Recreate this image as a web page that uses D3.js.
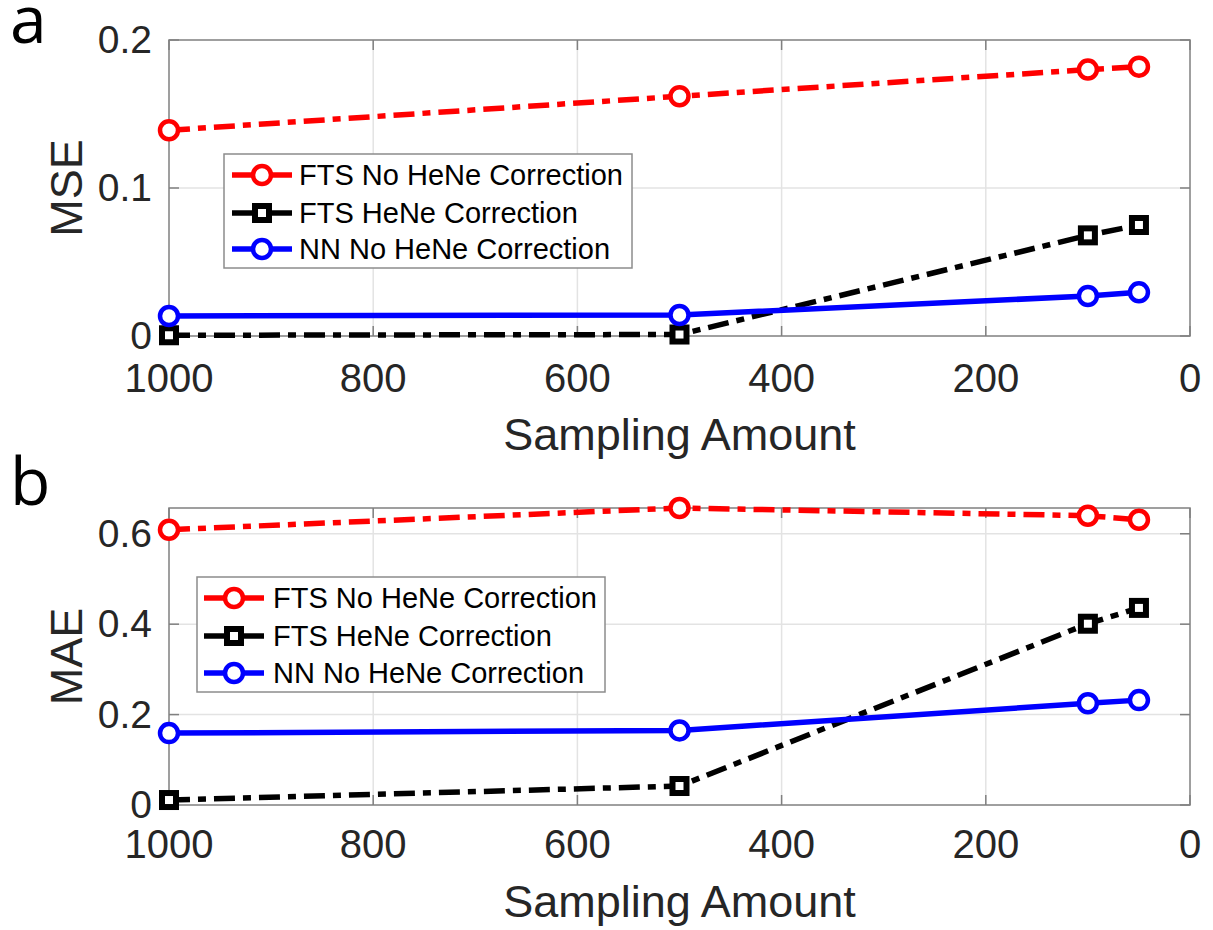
<!DOCTYPE html>
<html>
<head>
<meta charset="utf-8">
<script src="https://cdn.jsdelivr.net/npm/d3@7"></script>
<style>
  html, body { margin: 0; padding: 0; background: #fff; }
  svg { display: block; }
  text { font-family: "Liberation Sans", Arial, sans-serif; fill: #262626; }
</style>
</head>
<body>
<svg id="chart" width="1213" height="930"></svg>
<script>
// ---------------- data ----------------
const samplingAmounts = [1000, 500, 100, 50];
const xTickValues = [1000, 800, 600, 400, 200, 0];
const seriesNames = ["FTS No HeNe Correction", "FTS HeNe Correction", "NN No HeNe Correction"];

const mseFtsNoCorr = [0.139, 0.162, 0.180, 0.182];
const mseFtsCorr   = [0.0005, 0.001, 0.068, 0.075];
const mseNnNoCorr  = [0.0135, 0.0142, 0.027, 0.0295];
const mseTicks = [0, 0.1, 0.2];

const maeFtsNoCorr = [0.609, 0.657, 0.640, 0.631];
const maeFtsCorr   = [0.011, 0.042, 0.401, 0.436];
const maeNnNoCorr  = [0.159, 0.165, 0.225, 0.232];
const maeTicks = [0, 0.2, 0.4, 0.6];

// ---------------- styling ----------------
const styles = [
  { color: "#ff0000", dash: "21,8,8,8", marker: "circle" },
  { color: "#000000", dash: "21,8,8,8", marker: "square" },
  { color: "#0000ff", dash: null, marker: "circle" }
];
const axisColor = "#808080";
const gridColor = "#e3e3e3";

const svg = d3.select("#chart");
const X0 = 169, X1 = 1190;

const panels = [
  { letter: "a", ylabel: "MSE", top: 40, bottom: 336, ymax: 0.2, ticks: mseTicks,
    fmt: d => d === 0 ? "0" : d3.format(".1f")(d),
    series: [mseFtsNoCorr, mseFtsCorr, mseNnNoCorr],
    letterY: 43, xTickBase: 392, xTitleBase: 450,
    legend: { x: 224, y: 154, w: 408, h: 114, rows: [175, 213, 249], lineX0: 232, lineX1: 292, textX: 299 } },
  { letter: "b", ylabel: "MAE", top: 508, bottom: 805, ymax: d3.max(maeFtsNoCorr), ticks: maeTicks,
    fmt: d => d === 0 ? "0" : d3.format(".1f")(d),
    series: [maeFtsNoCorr, maeFtsCorr, maeNnNoCorr],
    letterY: 505, xTickBase: 858, xTitleBase: 917,
    legend: { x: 197, y: 577, w: 408, h: 115, rows: [598, 636, 673], lineX0: 204, lineX1: 264, textX: 273 } }
];

function drawMarker(g, type, cx, cy, color) {
  if (type === "circle") {
    g.append("circle").attr("cx", cx).attr("cy", cy).attr("r", 9)
      .attr("fill", "#fff").attr("stroke", color).attr("stroke-width", 4.5);
  } else {
    g.append("rect").attr("x", cx - 7).attr("y", cy - 7).attr("width", 14).attr("height", 14)
      .attr("fill", "#fff").attr("stroke", color).attr("stroke-width", 6);
  }
}

panels.forEach(p => {
  const x = d3.scaleLinear().domain([1000, 0]).range([X0, X1]);
  const y = d3.scaleLinear().domain([0, p.ymax]).range([p.bottom, p.top]);
  const g = svg.append("g");

  // grid
  g.selectAll(".vg").data(xTickValues.filter(v => v !== 1000 && v !== 0)).enter().append("line")
    .attr("x1", d => x(d)).attr("x2", d => x(d)).attr("y1", p.top).attr("y2", p.bottom)
    .attr("stroke", gridColor).attr("stroke-width", 1.5);
  g.selectAll(".hg").data(p.ticks.filter(v => y(v) > p.top + 1 && y(v) < p.bottom - 1)).enter().append("line")
    .attr("x1", X0).attr("x2", X1).attr("y1", d => y(d)).attr("y2", d => y(d))
    .attr("stroke", gridColor).attr("stroke-width", 1.5);

  // box
  g.append("rect").attr("x", X0).attr("y", p.top).attr("width", X1 - X0).attr("height", p.bottom - p.top)
    .attr("fill", "none").attr("stroke", axisColor).attr("stroke-width", 1.5);

  // inward ticks on all sides
  const tl = 10;
  xTickValues.forEach(v => {
    g.append("line").attr("x1", x(v)).attr("x2", x(v)).attr("y1", p.bottom).attr("y2", p.bottom - tl)
      .attr("stroke", axisColor).attr("stroke-width", 1.5);
    g.append("line").attr("x1", x(v)).attr("x2", x(v)).attr("y1", p.top).attr("y2", p.top + tl)
      .attr("stroke", axisColor).attr("stroke-width", 1.5);
  });
  p.ticks.forEach(v => {
    g.append("line").attr("x1", X0).attr("x2", X0 + tl).attr("y1", y(v)).attr("y2", y(v))
      .attr("stroke", axisColor).attr("stroke-width", 1.5);
    g.append("line").attr("x1", X1).attr("x2", X1 - tl).attr("y1", y(v)).attr("y2", y(v))
      .attr("stroke", axisColor).attr("stroke-width", 1.5);
  });

  // tick labels
  g.selectAll(".xt").data(xTickValues).enter().append("text")
    .attr("x", d => x(d)).attr("y", p.xTickBase).attr("text-anchor", "middle")
    .attr("font-size", 40).text(d => d);
  g.selectAll(".yt").data(p.ticks).enter().append("text")
    .attr("x", X0 - 17).attr("y", d => y(d) + 13).attr("text-anchor", "end")
    .attr("font-size", 39).text(p.fmt);

  // axis titles
  g.append("text").attr("x", (X0 + X1) / 2).attr("y", p.xTitleBase).attr("text-anchor", "middle")
    .attr("font-size", 45).text("Sampling Amount");
  g.append("text").attr("transform", `translate(82,${(p.top + p.bottom) / 2}) rotate(-90)`)
    .attr("text-anchor", "middle").attr("font-size", 45).text(p.ylabel);

  // panel letter
  svg.append("text").attr("x", 10).attr("y", p.letterY).attr("font-size", 66)
    .style("font-family", "'Open Sans', 'Liberation Sans', sans-serif")
    .style("fill", "#000").text(p.letter);

  // series
  const line = d3.line().x((d, i) => x(samplingAmounts[i])).y(d => y(d));
  p.series.forEach((vals, si) => {
    const st = styles[si];
    g.append("path").datum(vals).attr("d", line).attr("fill", "none")
      .attr("stroke", st.color).attr("stroke-width", 5.5)
      .attr("stroke-dasharray", st.dash).attr("stroke-linejoin", "round");
  });
  p.series.forEach((vals, si) => {
    const st = styles[si];
    vals.forEach((v, i) => drawMarker(g, st.marker, x(samplingAmounts[i]), y(v), st.color));
  });

  // legend
  const L = p.legend;
  const lg = svg.append("g");
  lg.append("rect").attr("x", L.x).attr("y", L.y).attr("width", L.w).attr("height", L.h)
    .attr("fill", "#fff").attr("stroke", "#8c8c8c").attr("stroke-width", 1.5);
  seriesNames.forEach((name, si) => {
    const st = styles[si];
    const cy = L.rows[si];
    lg.append("line").attr("x1", L.lineX0).attr("x2", L.lineX1).attr("y1", cy).attr("y2", cy)
      .attr("stroke", st.color).attr("stroke-width", 5.5);
    drawMarker(lg, st.marker, (L.lineX0 + L.lineX1) / 2, cy, st.color);
    lg.append("text").attr("x", L.textX).attr("y", cy + 10).attr("font-size", 29)
      .style("fill", "#000").text(name);
  });
});
</script>
</body>
</html>
